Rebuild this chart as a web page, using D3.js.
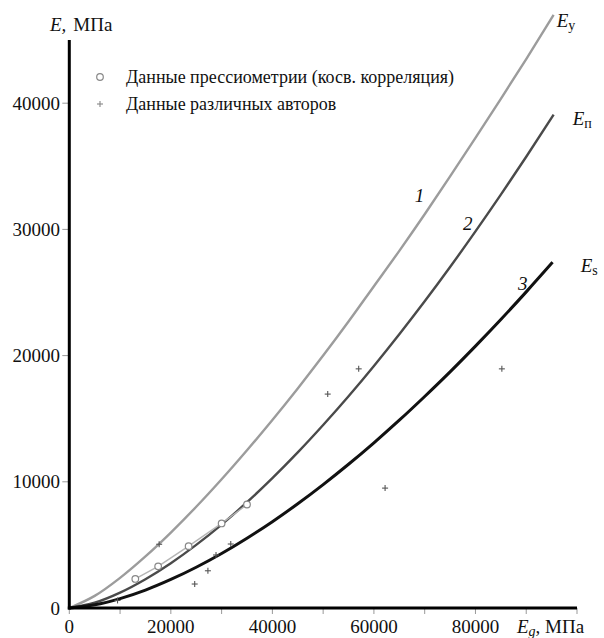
<!DOCTYPE html>
<html>
<head>
<meta charset="utf-8">
<script src="https://cdn.jsdelivr.net/npm/d3@7/dist/d3.min.js"></script>
<style>
  html, body { margin: 0; padding: 0; background: #fff; }
  svg { display: block; }
</style>
</head>
<body>
<svg id="chart" width="604" height="638"></svg>
<script>
// Deformation modulus curves E(Eg), MPa
const curveY = [[0,0],[5000,960],[10000,2390],[15000,4090],[20000,5980],[25000,8020],[30000,10200],[35000,12500],[40000,14900],[45000,17400],[50000,20000],[55000,22700],[60000,25500],[65000,28300],[70000,31200],[75000,34200],[80000,37250],[85000,40350],[90000,43500],[95400,47000]];
const curveP = [[0,0],[5000,420],[10000,1220],[15000,2280],[20000,3550],[25000,5000],[30000,6610],[35000,8380],[40000,10290],[45000,12330],[50000,14500],[55000,16780],[60000,19180],[65000,21690],[70000,24300],[75000,27020],[80000,29840],[85000,32750],[90000,35760],[95400,39100]];
const curveS = [[0,0],[5000,250],[10000,745],[15000,1420],[20000,2260],[25000,3230],[30000,4320],[35000,5530],[40000,6840],[45000,8260],[50000,9780],[55000,11390],[60000,13090],[65000,14880],[70000,16760],[75000,18710],[80000,20750],[85000,22860],[90000,25050],[95200,27400]];

// Pressuremeter data (indirect correlation)
const pressPoints = [[13000,2300],[17500,3300],[23500,4900],[30000,6700],[35000,8200]];
// Data of various authors
const authorPoints = [[9500,600],[17700,5050],[24700,1900],[27300,2950],[28900,4200],[31800,5070],[50900,16950],[57000,18950],[62200,9500],[85200,18950]];

const xTicks = [0,10000,20000,30000,40000,50000,60000,70000,80000,90000,100000];
const xTickLabels = [0,20000,40000,60000,80000];
const yTicks = [0,10000,20000,30000,40000];

// curve number labels: [Eg, E, text]
const curveNumbers = [[69000,32200,"1"],[78500,29950,"2"],[89300,25200,"3"]];

// pick the first installed serif face, otherwise a plain sans face
function pickFont(cands) {
  const ctx = document.createElement("canvas").getContext("2d");
  const s = "Данные прессиометрии 40000 МПа";
  ctx.font = "20px monospace";
  const base = ctx.measureText(s).width;
  for (const f of cands) {
    ctx.font = `20px "${f}", monospace`;
    if (Math.abs(ctx.measureText(s).width - base) > 0.5) return f;
  }
  return null;
}
const serifFace = pickFont(["Liberation Serif", "Times New Roman", "Tinos", "DejaVu Serif", "Noto Serif", "FreeSerif", "Nimbus Roman"]);
const FONT = serifFace ? `"${serifFace}", serif` : `"Liberation Sans", Arial, sans-serif`;
const FS = serifFace ? 19 : 18.5;      // tick labels / titles
const FS_LEG = serifFace ? 18 : 18;    // legend
const FS_SUB = serifFace ? 14 : 13;

const svg = d3.select("#chart").attr("font-family", FONT);
const x = d3.scaleLinear().domain([0,100000]).range([69.3,577]);
const y = d3.scaleLinear().domain([0,45000]).range([608,40.1]);

const line = d3.line().x(d => x(d[0])).y(d => y(d[1])).curve(d3.curveMonotoneX);

// ticks
svg.append("g").selectAll("line").data(xTicks).join("line")
  .attr("x1", d => x(d)).attr("x2", d => x(d))
  .attr("y1", y(0)).attr("y2", y(0) + 6)
  .attr("stroke", "#999").attr("stroke-width", 1);
svg.append("g").selectAll("line").data(yTicks.filter(d => d > 0)).join("line")
  .attr("x1", x(0) - 7).attr("x2", x(0))
  .attr("y1", d => y(d)).attr("y2", d => y(d))
  .attr("stroke", "#999").attr("stroke-width", 1);

// tick labels
svg.append("g").selectAll("text").data(xTickLabels).join("text")
  .attr("x", d => x(d)).attr("y", 633)
  .attr("text-anchor", "middle").attr("font-size", FS).attr("fill", "#111")
  .text(d => d);
svg.append("g").selectAll("text").data(yTicks).join("text")
  .attr("x", 60).attr("y", d => y(d)).attr("dy", "0.35em")
  .attr("text-anchor", "end").attr("font-size", FS).attr("fill", "#111")
  .text(d => d);

// curves
svg.append("path").datum(curveY).attr("d", line)
  .attr("fill", "none").attr("stroke", "#9c9c9c").attr("stroke-width", 2.4);
svg.append("path").datum(curveP).attr("d", line)
  .attr("fill", "none").attr("stroke", "#4a4a4a").attr("stroke-width", 2.4);
svg.append("path").datum(curveS).attr("d", line)
  .attr("fill", "none").attr("stroke", "#111").attr("stroke-width", 3);

// pressuremeter series
svg.append("path").datum(pressPoints)
  .attr("d", d3.line().x(d => x(d[0])).y(d => y(d[1])))
  .attr("fill", "none").attr("stroke", "#b5b5b5").attr("stroke-width", 1.4);
svg.append("g").selectAll("circle").data(pressPoints).join("circle")
  .attr("cx", d => x(d[0])).attr("cy", d => y(d[1])).attr("r", 3.3)
  .attr("fill", "#fff").attr("stroke", "#888").attr("stroke-width", 1.2);

// authors' data
const plus = (g, cx, cy, s, col) => {
  g.append("line").attr("x1", cx - s).attr("x2", cx + s).attr("y1", cy).attr("y2", cy)
    .attr("stroke", col).attr("stroke-width", 1.1);
  g.append("line").attr("x1", cx).attr("x2", cx).attr("y1", cy - s).attr("y2", cy + s)
    .attr("stroke", col).attr("stroke-width", 1.1);
};
const pg = svg.append("g");
authorPoints.forEach(d => plus(pg, x(d[0]), y(d[1]), 3, "#555"));

// axes
svg.append("line").attr("x1", x(0)).attr("x2", x(0)).attr("y1", y(45000)).attr("y2", y(0) + 1.5)
  .attr("stroke", "#000").attr("stroke-width", 3);
svg.append("line").attr("x1", x(0) - 1.5).attr("x2", x(100000)).attr("y1", y(0)).attr("y2", y(0))
  .attr("stroke", "#000").attr("stroke-width", 3);

// axis titles
const yt = svg.append("text").attr("x", 50).attr("y", 31).attr("font-size", FS).attr("fill", "#111");
yt.append("tspan").attr("font-style", "italic").text("E,");
yt.append("tspan").attr("dx", 7).text("МПа");

const xt = svg.append("text").attr("x", 517).attr("y", 633).attr("font-size", FS).attr("fill", "#111");
xt.append("tspan").attr("font-style", "italic").text("E");
xt.append("tspan").attr("font-style", "italic").attr("font-size", FS_SUB).attr("dy", 3).text("g");
xt.append("tspan").attr("dy", -3).text(", МПа");

// curve end labels
const endLabel = (data, sub, dx, dy) => {
  const last = data[data.length - 1];
  const t = svg.append("text").attr("x", x(last[0]) + dx).attr("y", y(last[1]) + dy)
    .attr("font-size", FS).attr("fill", "#111");
  t.append("tspan").attr("font-style", "italic").text("E");
  t.append("tspan").attr("font-size", FS_SUB).attr("dy", 3).text(sub);
};
endLabel(curveY, "у", 3, 12);
endLabel(curveP, "п", 19, 10);
endLabel(curveS, "s", 28, 10);

// curve numbers
svg.append("g").selectAll("text").data(curveNumbers).join("text")
  .attr("x", d => x(d[0])).attr("y", d => y(d[1]))
  .attr("font-size", FS).attr("font-style", "italic").attr("fill", "#111")
  .attr("text-anchor", "middle").text(d => d[2]);

// legend
const lg = svg.append("g");
lg.append("circle").attr("cx", 100).attr("cy", 77).attr("r", 3.3)
  .attr("fill", "#fff").attr("stroke", "#888").attr("stroke-width", 1.2);
plus(lg, 100, 104, 3, "#888");
lg.append("text").attr("x", 126).attr("y", 77).attr("dy", "0.35em").attr("font-size", FS_LEG).attr("fill", "#111")
  .text("Данные прессиометрии (косв. корреляция)");
lg.append("text").attr("x", 126).attr("y", 104).attr("dy", "0.35em").attr("font-size", FS_LEG).attr("fill", "#111")
  .text("Данные различных авторов");
</script>
</body>
</html>
